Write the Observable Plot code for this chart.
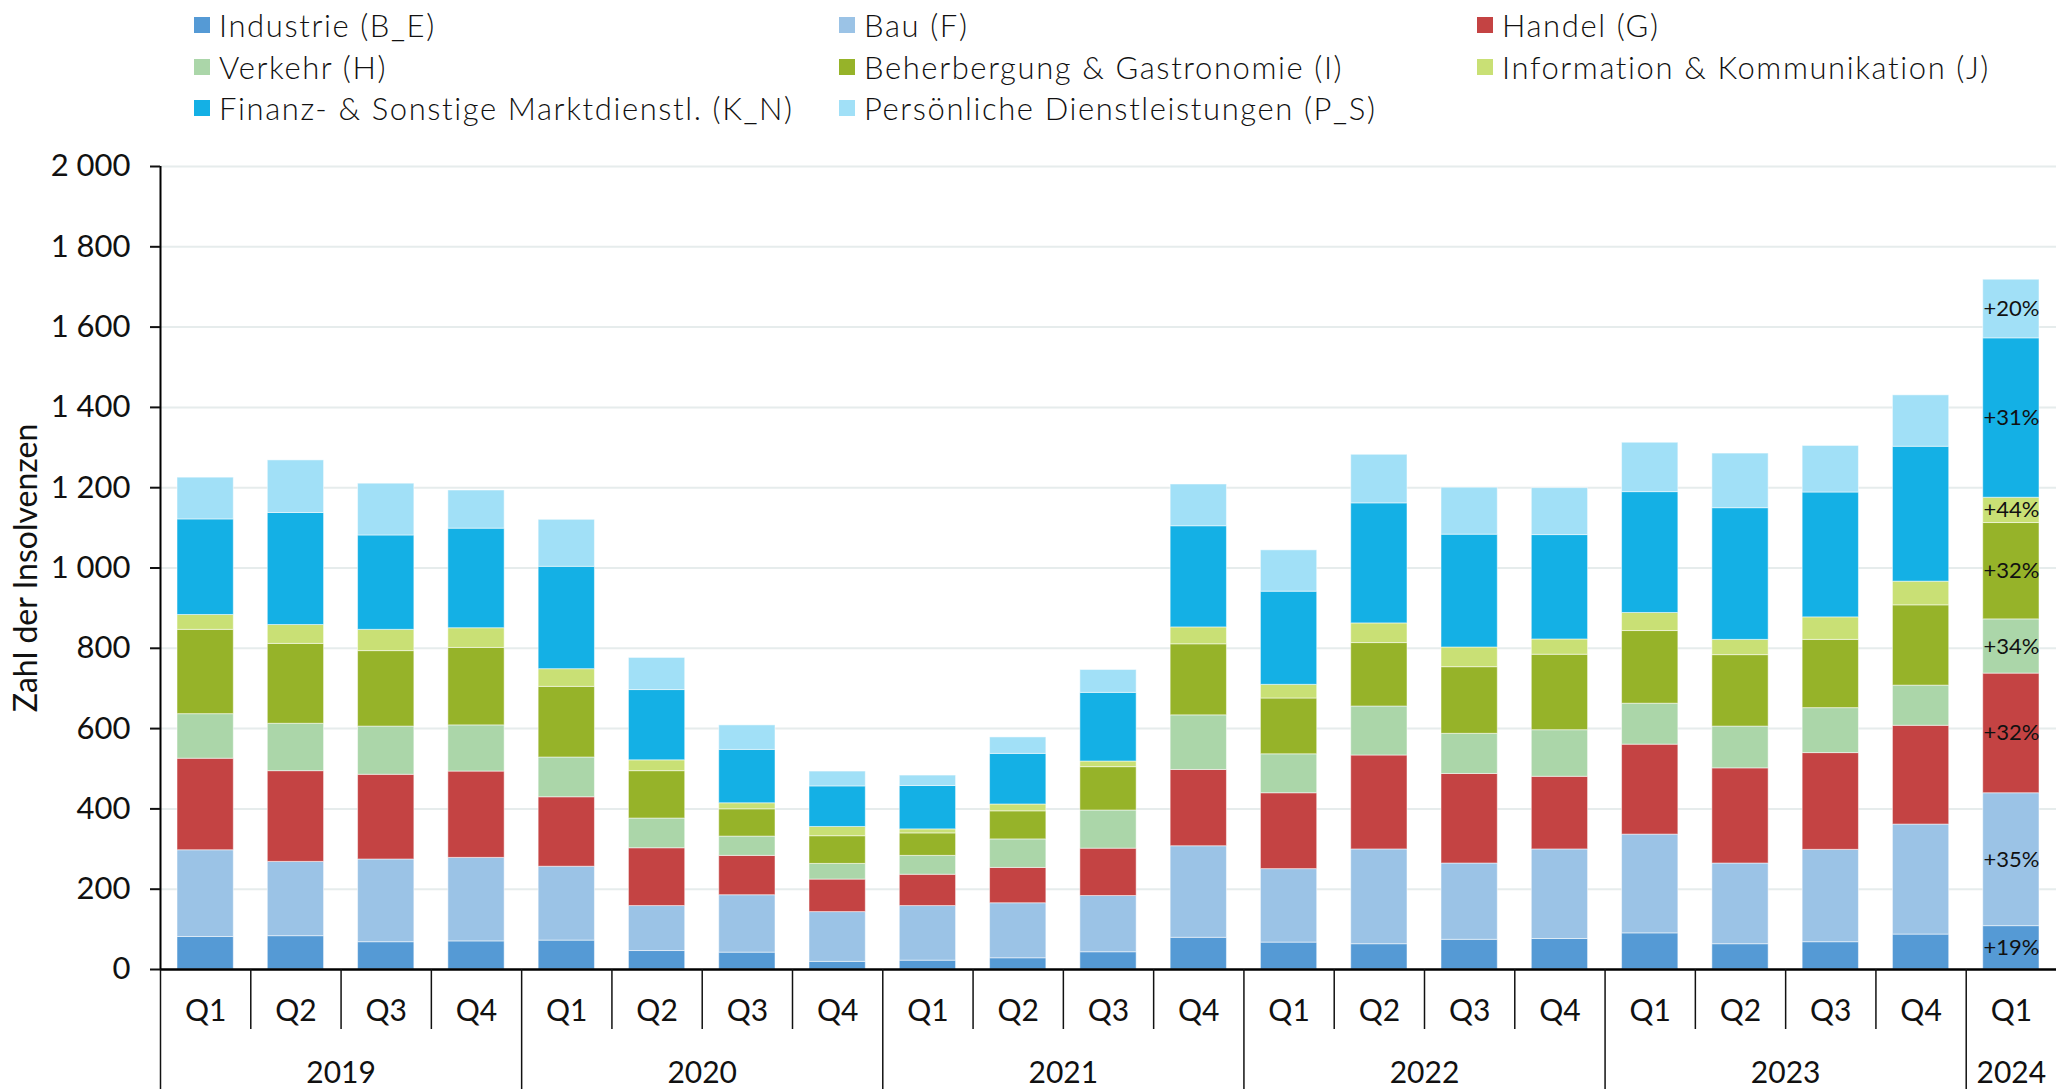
<!DOCTYPE html>
<html><head><meta charset="utf-8">
<script src="https://cdn.jsdelivr.net/npm/d3@7"></script>
<script src="https://cdn.jsdelivr.net/npm/@observablehq/plot@0.6"></script>
<style>
body{margin:0;background:#fff;font-family:Lato,sans-serif;overflow:hidden;width:2056px;height:1089px}
#legend{position:relative;width:2056px;height:140px}
.item{position:absolute;height:40px;display:flex;align-items:center;font-size:31px;letter-spacing:1.6px;font-weight:300;color:#111;white-space:nowrap}
.sw{width:16px;height:16px;margin-right:9px;flex:none}
#chart svg{display:block}
</style></head><body>
<div id="legend"></div><div id="chart"></div>
<script>
const years = [2019,2019,2019,2019,2020,2020,2020,2020,2021,2021,2021,2021,2022,2022,2022,2022,2023,2023,2023,2023,2024];
const quarters = ["Q1","Q2","Q3","Q4","Q1","Q2","Q3","Q4","Q1","Q2","Q3","Q4","Q1","Q2","Q3","Q4","Q1","Q2","Q3","Q4","Q1"];
const sectors = ["Industrie (B_E)","Bau (F)","Handel (G)","Verkehr (H)","Beherbergung & Gastronomie (I)","Information & Kommunikation (J)","Finanz- & Sonstige Marktdienstl. (K_N)","Persönliche Dienstleistungen (P_S)"];
const colors = ["#559AD5","#9BC3E6","#C44343","#ABD6A9","#96B329","#C9E075","#14B0E5","#A1E0F7"];

const industrie = [81,83,68,70, 72,46,42,19, 22,28,43,79, 67,63,74,76, 90,63,68,87, 108];
const bau       = [216,185,206,208, 184,112,143,124, 136,137,140,228, 183,236,190,223, 246,201,230,274, 331];
const handel    = [228,226,211,215, 173,144,98,81, 78,88,118,190, 189,234,223,181, 224,237,241,246, 298];
const verkehr   = [111,118,120,115, 99,74,48,39, 47,71,95,136, 97,122,100,116, 102,104,112,100, 135];
const gastro    = [210,199,188,193, 176,118,68,69, 56,70,108,177, 139,158,166,188, 181,178,170,200, 240];
const info      = [37,47,53,49, 44,27,15,23, 10,17,14,42, 34,49,49,38, 45,38,56,59, 63];
const finanz    = [238,279,235,248, 255,175,133,101, 108,126,171,252, 232,299,281,260, 301,328,311,336, 397];
const personal  = [104,131,129,95, 117,80,61,37, 26,41,57,104, 103,121,117,117, 123,136,116,128, 146];
const changes   = ["+19%","+35%","+32%","+34%","+32%","+44%","+31%","+20%"];

const series = [industrie, bau, handel, verkehr, gastro, info, finanz, personal];

// legend
const legendPos = [[194,5],[839,5],[1477,5],[194,47],[839,47],[1477,47],[194,88],[839,88]];
const leg = document.getElementById("legend");
sectors.forEach((s,k)=>{
  const it = document.createElement("div");
  it.className="item"; it.style.left=legendPos[k][0]+"px"; it.style.top=legendPos[k][1]+"px";
  it.innerHTML = `<span class="sw" style="background:${colors[k]}"></span><span>${s}</span>`;
  leg.appendChild(it);
});

const rows = [];
years.forEach((y,i)=>sectors.forEach((s,k)=>rows.push({i, sector:s, value:series[k][i]})));
const last = years.length-1;
const lastRows = sectors.map((s,k)=>({i:last, sector:s, value:series[k][last], change:changes[k]}));

const n = years.length;
const uniqueYears = [...new Set(years)];
const yearStart = uniqueYears.map(y=>years.indexOf(y));
const yearMid = uniqueYears.map(y=>(years.indexOf(y)+years.lastIndexOf(y)+1)/2);
const yearBounds = yearStart;
const quarterBounds = d3.range(n).filter(i=>!yearBounds.includes(i));

const fmt = d => d3.format(",")(d).replace(/,/g, "\u00a0");

const chart = Plot.plot({
  width: 2056, height: 949,
  marginLeft: 160, marginRight: 0, marginTop: 26, marginBottom: 120,
  style: {fontFamily: "Lato, sans-serif", fontSize: "30px", color: "#111", background: "white", overflow: "visible"},
  x: {type: "linear", domain: [0, n], axis: null},
  y: {domain: [0, 2000], axis: null},
  color: {domain: sectors, range: colors},
  marks: [
    Plot.gridY({ticks: d3.range(200, 2001, 200), stroke: "#e6ecec", strokeOpacity: 1, strokeWidth: 2}),
    Plot.rectY(rows, {x: "i", interval: 1, y: "value", fill: "sector", insetLeft: 17, insetRight: 17, stroke: "white", strokeOpacity: 0.5, strokeWidth: 1}),
    Plot.text(lastRows, Plot.stackY({x: d => d.i + 0.5, y: "value", text: "change", fontSize: 22, fill: "#111"})),
    Plot.ruleX([0], {y1: 0, y2: 2000, stroke: "black", strokeWidth: 2}),
    Plot.ruleY([0], {stroke: "black", strokeWidth: 2.5}),
    Plot.axisY({ticks: d3.range(0, 2001, 200), tickSize: 10, tickPadding: 20, tickFormat: fmt, fontSize: 31, strokeWidth: 2, label: null}),
    Plot.axisX({ticks: quarterBounds, tickSize: 60, tickFormat: () => "", strokeWidth: 1.5, label: null}),
    Plot.axisX({ticks: yearBounds, tickSize: 120, tickFormat: () => "", strokeWidth: 1.5, label: null}),
    Plot.axisX({ticks: d3.range(n).map(i => i + 0.5), tickSize: 0, tickPadding: 30, tickFormat: t => quarters[Math.floor(t)], fontSize: 30, label: null}),
    Plot.axisX({ticks: yearMid, tickSize: 0, tickPadding: 92, tickFormat: t => String(uniqueYears[yearMid.indexOf(t)]), fontSize: 30, label: null}),
    Plot.text(["Zahl der Insolvenzen"], {frameAnchor: "left", textAnchor: "middle", rotate: -90, dx: -134, dy: 0, fontSize: 32, fill: "#111", letterSpacing: 3})
  ]
});
document.getElementById("chart").appendChild(chart);
</script>
</body></html>
